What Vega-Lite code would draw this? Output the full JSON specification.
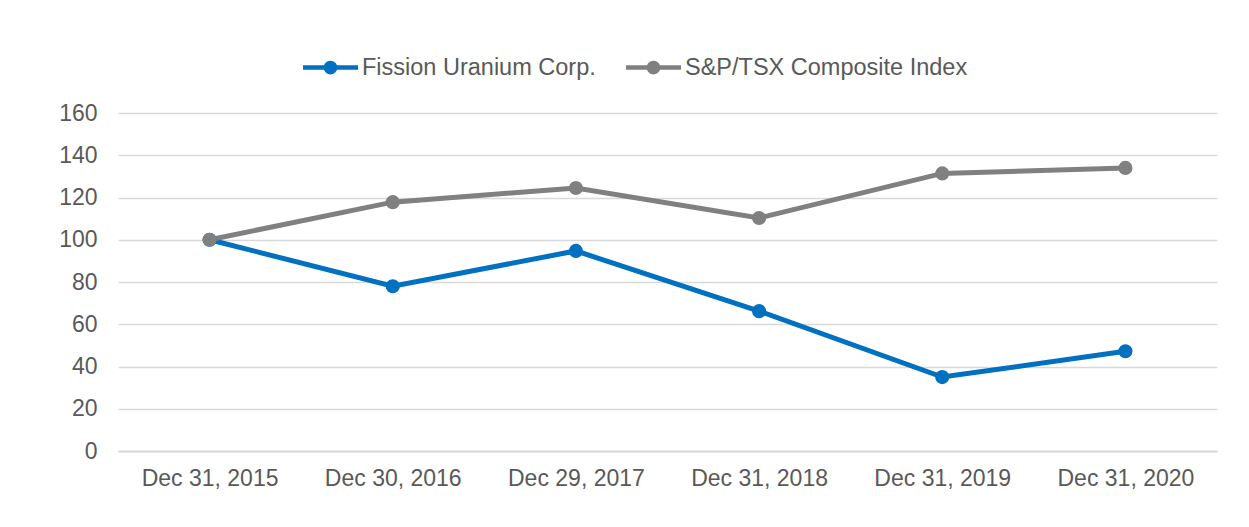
{
  "$schema": "https://vega.github.io/schema/vega-lite/v6.json",
  "autosize": {"type": "none"},
  "padding": {"left": 118, "top": 113, "right": 32, "bottom": 76},
  "width": 1099,
  "height": 338,
  "background": "white",
  "config": {
    "view": {"stroke": null},
    "font": "Liberation Sans",
    "axis": {"labelFont": "Liberation Sans", "labelColor": "#595959", "labelFontSize": 23}
  },
  "data": {
    "values": [
      {"date": "Dec 31, 2015", "series": "Fission Uranium Corp.", "value": 100},
      {"date": "Dec 30, 2016", "series": "Fission Uranium Corp.", "value": 78},
      {"date": "Dec 29, 2017", "series": "Fission Uranium Corp.", "value": 94.7},
      {"date": "Dec 31, 2018", "series": "Fission Uranium Corp.", "value": 66.2},
      {"date": "Dec 31, 2019", "series": "Fission Uranium Corp.", "value": 35},
      {"date": "Dec 31, 2020", "series": "Fission Uranium Corp.", "value": 47.2},
      {"date": "Dec 31, 2015", "series": "S&P/TSX Composite Index", "value": 100},
      {"date": "Dec 30, 2016", "series": "S&P/TSX Composite Index", "value": 117.8},
      {"date": "Dec 29, 2017", "series": "S&P/TSX Composite Index", "value": 124.5},
      {"date": "Dec 31, 2018", "series": "S&P/TSX Composite Index", "value": 110.3},
      {"date": "Dec 31, 2019", "series": "S&P/TSX Composite Index", "value": 131.4},
      {"date": "Dec 31, 2020", "series": "S&P/TSX Composite Index", "value": 134}
    ]
  },
  "encoding": {
    "x": {
      "field": "date", "type": "ordinal", "sort": null,
      "scale": {"type": "point", "padding": 0.5},
      "axis": {"title": null, "labelAngle": 0, "ticks": false, "domain": true, "domainColor": "#d9d9d9", "domainWidth": 2, "labelPadding": 16}
    },
    "y": {
      "field": "value", "type": "quantitative",
      "scale": {"domain": [0, 160], "nice": false},
      "axis": {"title": null, "values": [0, 20, 40, 60, 80, 100, 120, 140, 160], "ticks": false, "domain": false, "gridColor": "#d9d9d9", "gridWidth": 1.5, "labelPadding": 21}
    },
    "color": {
      "field": "series", "type": "nominal",
      "scale": {"domain": ["Fission Uranium Corp.", "S&P/TSX Composite Index"], "range": ["#0070C0", "#808080"]},
      "legend": {
        "title": null,
        "orient": "none",
        "direction": "horizontal",
        "legendX": 185,
        "legendY": -73,
        "padding": 0,
        "symbolType": "M-1,-0.08H1V0.08H-1Z M0.25,0A0.25,0.25 0 1,1 -0.25,0A0.25,0.25 0 1,1 0.25,0Z",
        "symbolSize": 3025,
        "symbolStrokeWidth": 0,
        "symbolOpacity": 1,
        "labelFont": "Liberation Sans",
        "labelFontSize": 23.5,
        "labelColor": "#595959",
        "labelOffset": 4,
        "labelLimit": 400,
        "columnPadding": 30
      }
    }
  },
  "layer": [
    {
      "mark": {"type": "line", "strokeWidth": 5}
    },
    {
      "mark": {"type": "point", "filled": true, "size": 200, "opacity": 1}
    }
  ]
}
